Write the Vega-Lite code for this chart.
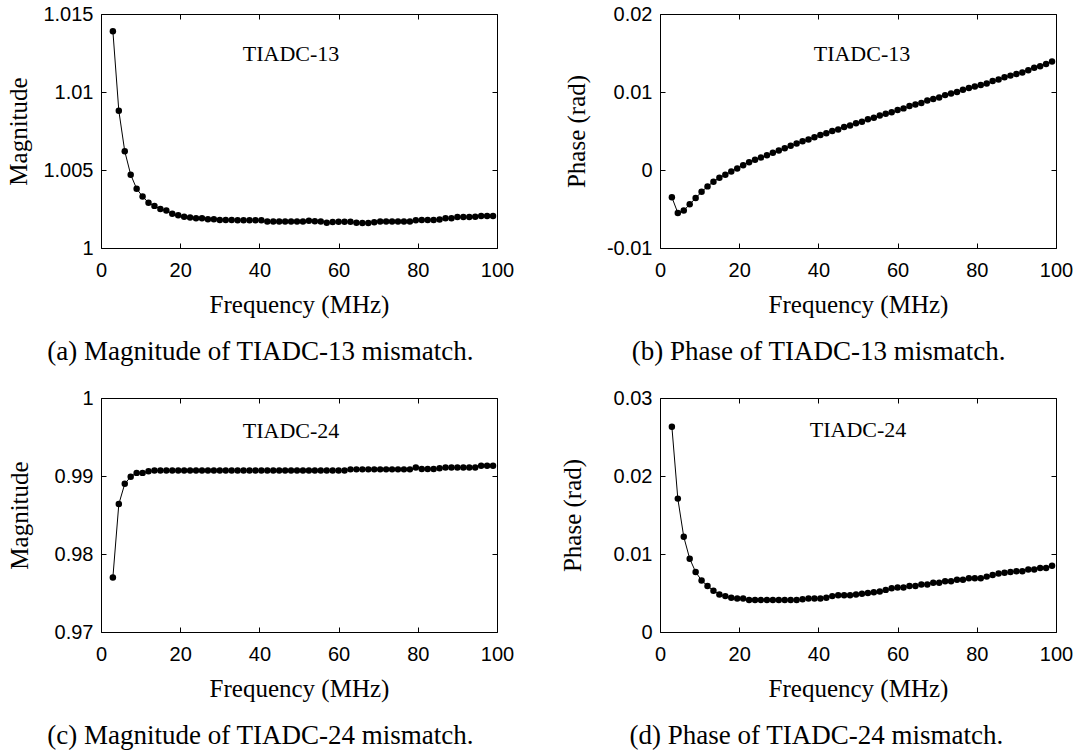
{
  "$schema": "https://vega.github.io/schema/vega-lite/v6.json",
  "padding": {"left": 6, "top": 3, "right": 0, "bottom": 0},
  "background": "white",
  "datasets": {
    "a": [
      {"f":3,"v":1.0139},{"f":4.5,"v":1.0088},{"f":6,"v":1.0062},{"f":7.5,"v":1.0047},{"f":9,"v":1.0038},{"f":10.5,"v":1.0033},{"f":12,"v":1.0029},{"f":13.5,"v":1.0027},{"f":15,"v":1.0025},{"f":16.5,"v":1.0024},{"f":18,"v":1.0022},{"f":19.5,"v":1.0021},{"f":21,"v":1.002},{"f":22.5,"v":1.00195},{"f":24,"v":1.0019},{"f":25.5,"v":1.0019},{"f":27,"v":1.00185},{"f":28.5,"v":1.00185},{"f":30,"v":1.0018},{"f":31.5,"v":1.0018},{"f":33,"v":1.0018},{"f":34.5,"v":1.00178},{"f":36,"v":1.00178},{"f":37.5,"v":1.00178},{"f":39,"v":1.00178},{"f":40.5,"v":1.00178},{"f":42,"v":1.0017},{"f":43.5,"v":1.0017},{"f":45,"v":1.0017},{"f":46.5,"v":1.0017},{"f":48,"v":1.0017},{"f":49.5,"v":1.0017},{"f":51,"v":1.0017},{"f":52.5,"v":1.00175},{"f":54,"v":1.00172},{"f":55.5,"v":1.0017},{"f":57,"v":1.00162},{"f":58.5,"v":1.00167},{"f":60,"v":1.00168},{"f":61.5,"v":1.00168},{"f":63,"v":1.00168},{"f":64.5,"v":1.00162},{"f":66,"v":1.0016},{"f":67.5,"v":1.0016},{"f":69,"v":1.00165},{"f":70.5,"v":1.0017},{"f":72,"v":1.0017},{"f":73.5,"v":1.0017},{"f":75,"v":1.0017},{"f":76.5,"v":1.0017},{"f":78,"v":1.0017},{"f":79.5,"v":1.00178},{"f":81,"v":1.0018},{"f":82.5,"v":1.0018},{"f":84,"v":1.0018},{"f":85.5,"v":1.00183},{"f":87,"v":1.0019},{"f":88.5,"v":1.0019},{"f":90,"v":1.00198},{"f":91.5,"v":1.00198},{"f":93,"v":1.00198},{"f":94.5,"v":1.002},{"f":96,"v":1.00205},{"f":97.5,"v":1.00205},{"f":99,"v":1.00205}
    ],
    "b": [
      {"f":3,"v":-0.0035},{"f":4.5,"v":-0.0055},{"f":6,"v":-0.0052},{"f":7.5,"v":-0.0044},{"f":9,"v":-0.0036},{"f":10.5,"v":-0.0028},{"f":12,"v":-0.0021},{"f":13.5,"v":-0.0015},{"f":15,"v":-0.001},{"f":16.5,"v":-0.0006},{"f":18,"v":-0.0002},{"f":19.5,"v":0.0002},{"f":21,"v":0.0006},{"f":22.5,"v":0.001},{"f":24,"v":0.0013},{"f":25.5,"v":0.0016},{"f":27,"v":0.0019},{"f":28.5,"v":0.0022},{"f":30,"v":0.0025},{"f":31.5,"v":0.0028},{"f":33,"v":0.0031},{"f":34.5,"v":0.0034},{"f":36,"v":0.0037},{"f":37.5,"v":0.0039},{"f":39,"v":0.0042},{"f":40.5,"v":0.0045},{"f":42,"v":0.0047},{"f":43.5,"v":0.005},{"f":45,"v":0.0052},{"f":46.5,"v":0.0055},{"f":48,"v":0.0057},{"f":49.5,"v":0.006},{"f":51,"v":0.0062},{"f":52.5,"v":0.0065},{"f":54,"v":0.0067},{"f":55.5,"v":0.007},{"f":57,"v":0.0072},{"f":58.5,"v":0.0074},{"f":60,"v":0.0077},{"f":61.5,"v":0.0079},{"f":63,"v":0.0082},{"f":64.5,"v":0.0084},{"f":66,"v":0.0086},{"f":67.5,"v":0.0089},{"f":69,"v":0.0091},{"f":70.5,"v":0.0093},{"f":72,"v":0.0096},{"f":73.5,"v":0.0098},{"f":75,"v":0.01},{"f":76.5,"v":0.0103},{"f":78,"v":0.0105},{"f":79.5,"v":0.0107},{"f":81,"v":0.0109},{"f":82.5,"v":0.0111},{"f":84,"v":0.0114},{"f":85.5,"v":0.0116},{"f":87,"v":0.0119},{"f":88.5,"v":0.0121},{"f":90,"v":0.0123},{"f":91.5,"v":0.0125},{"f":93,"v":0.0128},{"f":94.5,"v":0.0131},{"f":96,"v":0.0133},{"f":97.5,"v":0.0136},{"f":99,"v":0.0139}
    ],
    "c": [
      {"f":3,"v":0.977},{"f":4.5,"v":0.9864},{"f":6,"v":0.989},{"f":7.5,"v":0.9899},{"f":9,"v":0.9904},{"f":10.5,"v":0.9904},{"f":12,"v":0.9906},{"f":13.5,"v":0.9907},{"f":15,"v":0.9907},{"f":16.5,"v":0.9907},{"f":18,"v":0.9907},{"f":19.5,"v":0.9907},{"f":21,"v":0.9907},{"f":22.5,"v":0.9907},{"f":24,"v":0.9907},{"f":25.5,"v":0.9907},{"f":27,"v":0.9907},{"f":28.5,"v":0.9907},{"f":30,"v":0.9907},{"f":31.5,"v":0.9907},{"f":33,"v":0.9907},{"f":34.5,"v":0.9907},{"f":36,"v":0.9907},{"f":37.5,"v":0.9907},{"f":39,"v":0.9907},{"f":40.5,"v":0.9907},{"f":42,"v":0.9907},{"f":43.5,"v":0.9907},{"f":45,"v":0.9907},{"f":46.5,"v":0.9907},{"f":48,"v":0.9907},{"f":49.5,"v":0.9907},{"f":51,"v":0.9907},{"f":52.5,"v":0.9907},{"f":54,"v":0.9907},{"f":55.5,"v":0.9907},{"f":57,"v":0.9907},{"f":58.5,"v":0.9907},{"f":60,"v":0.9907},{"f":61.5,"v":0.9907},{"f":63,"v":0.99085},{"f":64.5,"v":0.99085},{"f":66,"v":0.99085},{"f":67.5,"v":0.99085},{"f":69,"v":0.99085},{"f":70.5,"v":0.99085},{"f":72,"v":0.99085},{"f":73.5,"v":0.99085},{"f":75,"v":0.99085},{"f":76.5,"v":0.99085},{"f":78,"v":0.99085},{"f":79.5,"v":0.9911},{"f":81,"v":0.9909},{"f":82.5,"v":0.9909},{"f":84,"v":0.9909},{"f":85.5,"v":0.991},{"f":87,"v":0.9911},{"f":88.5,"v":0.9911},{"f":90,"v":0.9911},{"f":91.5,"v":0.9911},{"f":93,"v":0.9911},{"f":94.5,"v":0.9911},{"f":96,"v":0.9913},{"f":97.5,"v":0.9913},{"f":99,"v":0.9913}
    ],
    "d": [
      {"f":3,"v":0.0263},{"f":4.5,"v":0.0171},{"f":6,"v":0.0122},{"f":7.5,"v":0.0094},{"f":9,"v":0.0077},{"f":10.5,"v":0.0066},{"f":12,"v":0.0059},{"f":13.5,"v":0.0053},{"f":15,"v":0.0048},{"f":16.5,"v":0.0046},{"f":18,"v":0.0044},{"f":19.5,"v":0.0043},{"f":21,"v":0.0043},{"f":22.5,"v":0.0041},{"f":24,"v":0.0041},{"f":25.5,"v":0.0041},{"f":27,"v":0.0041},{"f":28.5,"v":0.0041},{"f":30,"v":0.0041},{"f":31.5,"v":0.0041},{"f":33,"v":0.0041},{"f":34.5,"v":0.0041},{"f":36,"v":0.0042},{"f":37.5,"v":0.0043},{"f":39,"v":0.0043},{"f":40.5,"v":0.0043},{"f":42,"v":0.0044},{"f":43.5,"v":0.0046},{"f":45,"v":0.0047},{"f":46.5,"v":0.0047},{"f":48,"v":0.0047},{"f":49.5,"v":0.0048},{"f":51,"v":0.0049},{"f":52.5,"v":0.005},{"f":54,"v":0.0051},{"f":55.5,"v":0.0052},{"f":57,"v":0.0054},{"f":58.5,"v":0.0056},{"f":60,"v":0.0057},{"f":61.5,"v":0.0057},{"f":63,"v":0.0059},{"f":64.5,"v":0.0059},{"f":66,"v":0.0061},{"f":67.5,"v":0.0061},{"f":69,"v":0.0063},{"f":70.5,"v":0.0063},{"f":72,"v":0.0065},{"f":73.5,"v":0.0065},{"f":75,"v":0.0067},{"f":76.5,"v":0.0067},{"f":78,"v":0.0069},{"f":79.5,"v":0.0069},{"f":81,"v":0.0069},{"f":82.5,"v":0.0071},{"f":84,"v":0.0073},{"f":85.5,"v":0.0075},{"f":87,"v":0.0076},{"f":88.5,"v":0.0077},{"f":90,"v":0.0078},{"f":91.5,"v":0.0078},{"f":93,"v":0.008},{"f":94.5,"v":0.008},{"f":96,"v":0.0082},{"f":97.5,"v":0.0082},{"f":99,"v":0.0085}
    ]
  },
  "columns": 2,
  "spacing": {"row": 21, "column": 44},
  "concat": [
    {
      "width": 396, "height": 234,
      "title": {"text": "(a) Magnitude of TIADC-13 mismatch."},
      "layer": [
        {"data": {"name": "a"}, "mark": {"type": "line", "color": "black", "strokeWidth": 1},
         "encoding": {
           "x": {"field": "f", "type": "quantitative", "scale": {"domain": [0, 100], "nice": false}, "axis": {"orient": "bottom", "values": [0, 20, 40, 60, 80, 100], "title": "Frequency (MHz)", "labelPadding": 17, "titlePadding": 12}},
           "y": {"field": "v", "type": "quantitative", "scale": {"domain": [1, 1.015], "nice": false, "zero": false}, "axis": {"orient": "left", "values": [1, 1.005, 1.01, 1.015], "format": "~g", "title": "Magnitude", "labelPadding": 13, "titlePadding": 11}}}},
        {"data": {"name": "a"}, "mark": {"type": "point", "filled": true, "shape": "circle", "size": 42, "color": "black", "opacity": 1},
         "encoding": {
           "x": {"field": "f", "type": "quantitative", "axis": {"orient": "top", "values": [0, 20, 40, 60, 80, 100], "labels": false, "title": null}},
           "y": {"field": "v", "type": "quantitative", "axis": {"orient": "right", "values": [1, 1.005, 1.01, 1.015], "labels": false, "title": null}}}},
        {"data": {"values": [{"f": 48, "v": 1.01244, "label": "TIADC-13"}]}, "mark": {"type": "text", "font": "Liberation Serif", "fontSize": 22, "color": "black"},
         "encoding": {"x": {"field": "f", "type": "quantitative", "axis": null}, "y": {"field": "v", "type": "quantitative", "axis": null}, "text": {"field": "label"}}}
      ]
    },
    {
      "width": 396, "height": 234,
      "title": {"text": "(b) Phase of TIADC-13 mismatch."},
      "layer": [
        {"data": {"name": "b"}, "mark": {"type": "line", "color": "black", "strokeWidth": 1},
         "encoding": {
           "x": {"field": "f", "type": "quantitative", "scale": {"domain": [0, 100], "nice": false}, "axis": {"orient": "bottom", "values": [0, 20, 40, 60, 80, 100], "title": "Frequency (MHz)", "labelPadding": 17, "titlePadding": 12}},
           "y": {"field": "v", "type": "quantitative", "scale": {"domain": [-0.01, 0.02], "nice": false, "zero": false}, "axis": {"orient": "left", "values": [-0.01, 0, 0.01, 0.02], "format": "~g", "labelExpr": "replace(datum.label, '\u2212', '-')", "title": "Phase (rad)", "labelPadding": 13, "titlePadding": 17}}}},
        {"data": {"name": "b"}, "mark": {"type": "point", "filled": true, "shape": "circle", "size": 42, "color": "black", "opacity": 1},
         "encoding": {
           "x": {"field": "f", "type": "quantitative", "axis": {"orient": "top", "values": [0, 20, 40, 60, 80, 100], "labels": false, "title": null}},
           "y": {"field": "v", "type": "quantitative", "axis": {"orient": "right", "values": [-0.01, 0, 0.01, 0.02], "labels": false, "title": null}}}},
        {"data": {"values": [{"f": 51, "v": 0.0149, "label": "TIADC-13"}]}, "mark": {"type": "text", "font": "Liberation Serif", "fontSize": 22, "color": "black"},
         "encoding": {"x": {"field": "f", "type": "quantitative", "axis": null}, "y": {"field": "v", "type": "quantitative", "axis": null}, "text": {"field": "label"}}}
      ]
    },
    {
      "width": 396, "height": 234,
      "title": {"text": "(c) Magnitude of TIADC-24 mismatch."},
      "layer": [
        {"data": {"name": "c"}, "mark": {"type": "line", "color": "black", "strokeWidth": 1},
         "encoding": {
           "x": {"field": "f", "type": "quantitative", "scale": {"domain": [0, 100], "nice": false}, "axis": {"orient": "bottom", "values": [0, 20, 40, 60, 80, 100], "title": "Frequency (MHz)", "labelPadding": 17, "titlePadding": 12}},
           "y": {"field": "v", "type": "quantitative", "scale": {"domain": [0.97, 1], "nice": false, "zero": false}, "axis": {"orient": "left", "values": [0.97, 0.98, 0.99, 1], "format": "~g", "title": "Magnitude", "labelPadding": 13, "titlePadding": 22}}}},
        {"data": {"name": "c"}, "mark": {"type": "point", "filled": true, "shape": "circle", "size": 42, "color": "black", "opacity": 1},
         "encoding": {
           "x": {"field": "f", "type": "quantitative", "axis": {"orient": "top", "values": [0, 20, 40, 60, 80, 100], "labels": false, "title": null}},
           "y": {"field": "v", "type": "quantitative", "axis": {"orient": "right", "values": [0.97, 0.98, 0.99, 1], "labels": false, "title": null}}}},
        {"data": {"values": [{"f": 48, "v": 0.99577, "label": "TIADC-24"}]}, "mark": {"type": "text", "font": "Liberation Serif", "fontSize": 22, "color": "black"},
         "encoding": {"x": {"field": "f", "type": "quantitative", "axis": null}, "y": {"field": "v", "type": "quantitative", "axis": null}, "text": {"field": "label"}}}
      ]
    },
    {
      "width": 396, "height": 234,
      "title": {"text": "(d) Phase of TIADC-24 mismatch."},
      "layer": [
        {"data": {"name": "d"}, "mark": {"type": "line", "color": "black", "strokeWidth": 1},
         "encoding": {
           "x": {"field": "f", "type": "quantitative", "scale": {"domain": [0, 100], "nice": false}, "axis": {"orient": "bottom", "values": [0, 20, 40, 60, 80, 100], "title": "Frequency (MHz)", "labelPadding": 17, "titlePadding": 12}},
           "y": {"field": "v", "type": "quantitative", "scale": {"domain": [0, 0.03], "nice": false, "zero": false}, "axis": {"orient": "left", "values": [0, 0.01, 0.02, 0.03], "format": "~g", "title": "Phase (rad)", "labelPadding": 13, "titlePadding": 28}}}},
        {"data": {"name": "d"}, "mark": {"type": "point", "filled": true, "shape": "circle", "size": 42, "color": "black", "opacity": 1},
         "encoding": {
           "x": {"field": "f", "type": "quantitative", "axis": {"orient": "top", "values": [0, 20, 40, 60, 80, 100], "labels": false, "title": null}},
           "y": {"field": "v", "type": "quantitative", "axis": {"orient": "right", "values": [0, 0.01, 0.02, 0.03], "labels": false, "title": null}}}},
        {"data": {"values": [{"f": 50, "v": 0.0259, "label": "TIADC-24"}]}, "mark": {"type": "text", "font": "Liberation Serif", "fontSize": 22, "color": "black"},
         "encoding": {"x": {"field": "f", "type": "quantitative", "axis": null}, "y": {"field": "v", "type": "quantitative", "axis": null}, "text": {"field": "label"}}}
      ]
    }
  ],
  "config": {
    "view": {"stroke": "black", "strokeWidth": 1},
    "axis": {"domain": false, "grid": false, "tickSize": -5, "tickColor": "black", "tickWidth": 1, "labelFont": "Liberation Sans", "labelFontSize": 20, "labelColor": "black", "titleFont": "Liberation Serif", "titleFontSize": 25, "titleFontWeight": "normal", "titleColor": "black", "labelFlush": false},
    "title": {"orient": "bottom", "anchor": "middle", "frame": "bounds", "offset": 22, "font": "Liberation Serif", "fontSize": 27, "fontWeight": "normal", "color": "black"}
  }
}
